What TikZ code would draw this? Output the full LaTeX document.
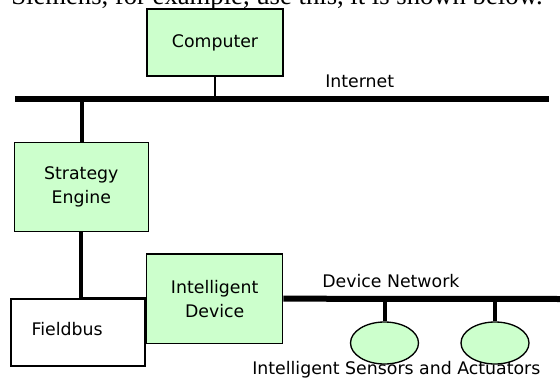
\documentclass[tikz,border=0pt]{standalone}
\usepackage{fontspec}
\setmainfont{DejaVu Sans}
\newfontfamily\serifx{Liberation Serif}
\usetikzlibrary{shapes.geometric}
\definecolor{boxgreen}{HTML}{CCFFCC}
\begin{document}
\begin{tikzpicture}[x=0.75pt,y=-0.75pt,
  every node/.style={font=\fontsize{13pt}{18pt}\selectfont},
  gbox/.style={draw=black,line width=0.9pt,fill=boxgreen,rectangle,inner sep=0pt,align=center},
  wbox/.style={draw=black,line width=0.9pt,fill=white,rectangle,inner sep=0pt},
  sens/.style={draw=black,line width=1pt,fill=boxgreen,ellipse,inner sep=0pt,minimum width=51pt,minimum height=31.5pt},
  bus/.style={line width=4.5pt},
  thick link/.style={line width=3pt},
  mid link/.style={line width=2.3pt},
  thin link/.style={line width=0.8pt},
  lbl/.style={inner sep=0pt,anchor=base west}]
\useasboundingbox (0,0) rectangle (560,378);
\clip (0,0) rectangle (560,378);
% top text (clipped)
\node[lbl,font=\serifx\fontsize{20pt}{24pt}\selectfont] (toptext) at (11,5) {Siemens, for example, use this, it is shown below.};
% coordinates for buses
\coordinate (inetL) at (15,98.7);
\coordinate (inetR) at (549,98.7);
\coordinate (devR) at (560,299);
% nodes
\node[gbox,minimum width=102pt,minimum height=50.25pt] (computer) at (215,42.5) {Computer};
\node[gbox,minimum width=100.5pt,minimum height=66.75pt] (strategy) at (81.3,187.2) {Strategy\\Engine};
\node[wbox,minimum width=100.5pt,minimum height=50.25pt,text width=69.5pt,align=left] (fieldbus) at (78,332.5) {Fieldbus\rule[-6pt]{0pt}{6pt}};
\node[gbox,minimum width=102pt,minimum height=67pt] (device) at (214.7,298.7) {Intelligent\\Device};
\node[sens] (s1) at (384.5,343) {};
\node[sens] (s2) at (495,343) {};
% buses
\draw[bus] (inetL) -- (inetR);
\draw[bus] (device.east) -- (devR);
% links
\draw[thin link] (computer.south) -- (computer.south |- inetL);
\draw[thick link] (strategy.north -| 81.5,0) -- (81.5,98.7);
\draw[thick link] (strategy.south) -- (strategy.south |- device.west);
\draw[mid link] ([xshift=-1.1pt]strategy.south |- device.west) -- (device.west);
\draw[thick link] (s1.north) -- (s1.north |- devR);
\draw[thick link] (s2.north) -- (s2.north |- devR);
% labels
\node[lbl] (inetlabel) at (325,88) {Internet};
\node[lbl] (devlabel) at (322,287) {Device Network};
\node[lbl] (senslabel) at (252,374) {Intelligent Sensors and Actuators};
\end{tikzpicture}
\end{document}
